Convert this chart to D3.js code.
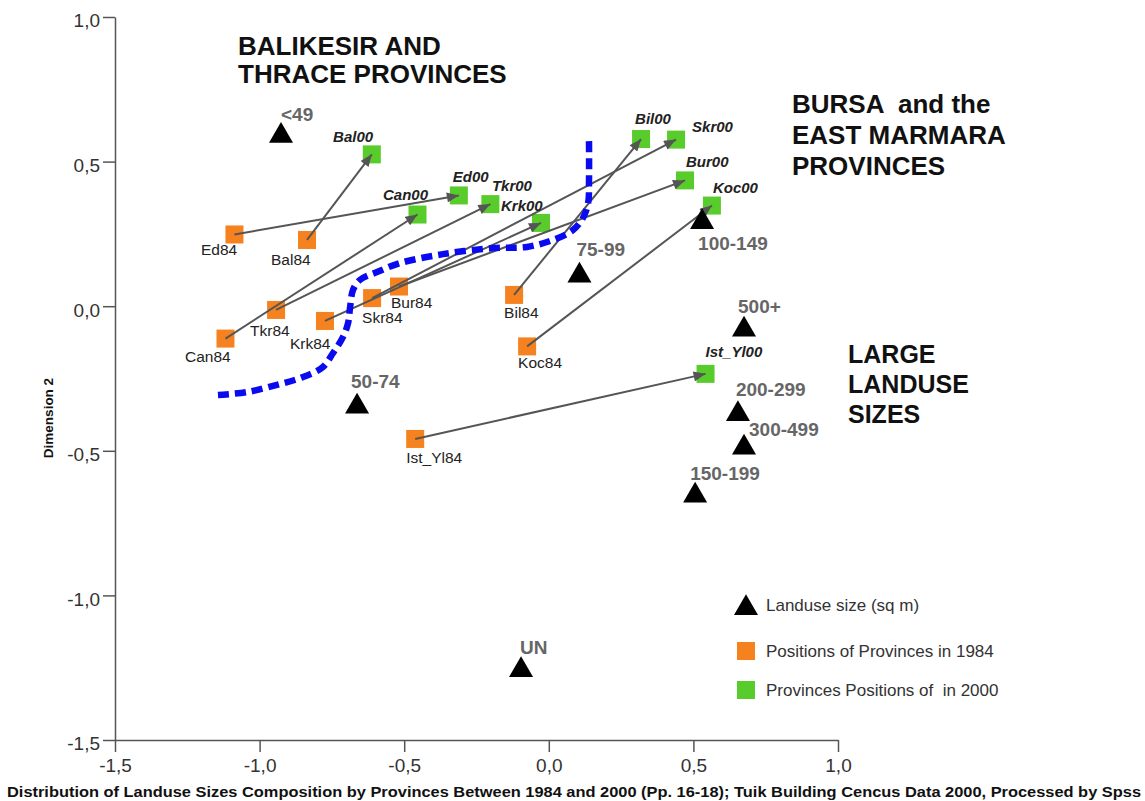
<!DOCTYPE html>
<html>
<head>
<meta charset="utf-8">
<script src="https://cdn.jsdelivr.net/npm/d3@7"></script>
<style>
    body { margin: 0; background: #ffffff; }
    text { font-family: "Liberation Sans", Arial, sans-serif; }
</style>
</head>
<body>
<div id="canvas"></div>
<script>
"use strict";

/* Data (Dimension 1 vs Dimension 2) */

// Landuse size categories (sq m) - black triangles
let landuseNames = ["<49", "50-74", "75-99", "100-149", "150-199", "200-299", "300-499", "500+", "UN"];
let landuseX = [-0.926, -0.663, 0.106, 0.530, 0.506, 0.654, 0.675, 0.675, -0.096];
let landuseY = [0.589, -0.347, 0.106, 0.291, -0.655, -0.373, -0.489, -0.081, -1.258];

// Provinces, positions in 1984 (orange) and 2000 (green)
let provinceCodes = ["Ed", "Bal", "Can", "Tkr", "Krk", "Skr", "Bur", "Bil", "Koc", "Ist_Yl"];
let x1984 = [-1.087, -0.836, -1.118, -0.943, -0.774, -0.611, -0.518, -0.120, -0.075, -0.462];
let y1984 = [0.248, 0.229, -0.112, -0.013, -0.051, 0.028, 0.068, 0.039, -0.139, -0.459];
let x2000 = [-0.311, -0.612, -0.454, -0.202, -0.027, 0.440, 0.471, 0.319, 0.564, 0.542];
let y2000 = [0.383, 0.525, 0.317, 0.353, 0.288, 0.576, 0.435, 0.578, 0.348, -0.234];

// Hand drawn boundary (blue dashed line)
let boundaryX = [-1.144, -1.044, -0.940, -0.850, -0.781, -0.746, -0.712, -0.694, -0.687, -0.677, -0.653,
                 -0.594, -0.515, -0.366, -0.193, -0.076, 0.014, 0.083, 0.118, 0.136, 0.139, 0.139];
let boundaryY = [-0.307, -0.297, -0.272, -0.245, -0.210, -0.162, -0.107, -0.058, -0.003, 0.056, 0.091,
                 0.118, 0.149, 0.180, 0.201, 0.205, 0.229, 0.263, 0.305, 0.357, 0.436, 0.574];

let tickValues = [-1.5, -1.0, -0.5, 0.0, 0.5, 1.0];

let regionTitles = [
    ["BALIKESIR AND", "THRACE PROVINCES"],
    ["BURSA  and the", "EAST MARMARA", "PROVINCES"],
    ["LARGE", "LANDUSE", "SIZES"]
];

let legendLabels = ["Landuse size (sq m)", "Positions of Provinces in 1984", "Provinces Positions of  in 2000"];

let captionText = "Distribution of Landuse Sizes Composition by Provinces Between 1984 and 2000 (Pp. 16-18); Tuik Building Cencus Data 2000, Processed by Spss";

/* Layout */
let svgWidth = 1145;
let svgHeight = 801;

// label offsets (dx, dy) from the marker centre, in pixels
let labelOffsets = {
    "<49": [0, -15], "50-74": [-6, -18.5], "75-99": [-3, -19.5], "100-149": [-4, 28],
    "150-199": [-5, -15.5], "200-299": [-2, -18], "300-499": [5, -11.5], "500+": [-6, -16.5], "UN": [-1, -16],
    "Ed84": [-33.5, 20.5], "Bal84": [-36, 25], "Can84": [-40.5, 23.5], "Tkr84": [-26, 26], "Krk84": [-35, 28],
    "Skr84": [-10, 25], "Bur84": [-8, 21.5], "Bil84": [-10, 23], "Koc84": [-9, 21.5], "Ist_Yl84": [-9, 24],
    "Bal00": [-38.7, -12.5], "Can00": [-34.5, -14.5], "Ed00": [-6, -13.5], "Tkr00": [1.5, -13], "Krk00": [-40, -12],
    "Bil00": [-6, -15], "Skr00": [16, -7.5], "Bur00": [1, -13.5], "Koc00": [1, -12.5], "Ist_Yl00": [0, -17]
};

let orange = "#f6821f";
let green = "#58cc2b";
let squareSize = 18;

let svg;
let xScale = d3.scaleLinear().domain([-1.5, 1.0]).range([115, 838]);
let yScale = d3.scaleLinear().domain([-1.5, 1.0]).range([740, 17]);

// comma decimals and a plain hyphen for negatives
let fmt = d3.formatLocale({ decimal: ",", thousands: ".", grouping: [3], currency: ["", ""], minus: "-" }).format(".1f");

(function() {
    svg = d3.select("#canvas")
        .append("svg")
        .attr("width", svgWidth)
        .attr("height", svgHeight);

    svg.append("rect")
        .attr("width", svgWidth)
        .attr("height", svgHeight)
        .attr("fill", "white");

    drawAxes();
    drawProvinces();
    drawBoundary();
    drawLanduse();
    drawTitles();
    drawLegend();
})();

function drawAxes() {
    let xAxis = svg.append("g")
        .attr("transform", "translate(0," + yScale(-1.5) + ")")
        .call(d3.axisBottom(xScale).tickValues(tickValues).tickFormat(fmt)
            .tickSizeInner(12).tickSizeOuter(0).tickPadding(7));

    let yAxis = svg.append("g")
        .attr("transform", "translate(" + xScale(-1.5) + ",0)")
        .call(d3.axisLeft(yScale).tickValues(tickValues).tickFormat(fmt)
            .tickSizeInner(12).tickSizeOuter(0).tickPadding(3));

    [xAxis, yAxis].forEach(function(g) {
        g.select(".domain").attr("stroke", "#555").attr("stroke-width", 1.5);
        g.selectAll(".tick line").attr("stroke", "#555").attr("stroke-width", 1.5);
        g.selectAll(".tick text")
            .attr("fill", "#333")
            .style("font-size", "19px")
            .style("font-family", "'Liberation Sans', Arial, sans-serif");
    });
    yAxis.selectAll(".tick text").attr("dy", "0.52em");

    // y axis title
    svg.append("text")
        .attr("transform", "translate(53,418) rotate(-90)")
        .attr("text-anchor", "middle")
        .attr("font-weight", "bold")
        .style("font-size", "13.5px")
        .attr("fill", "#111")
        .text("Dimension 2");

    // caption below the chart
    svg.append("text")
        .attr("x", 7)
        .attr("y", 797)
        .attr("font-weight", "bold")
        .attr("textLength", 1134)
        .attr("lengthAdjust", "spacingAndGlyphs")
        .style("font-size", "15px")
        .style("font-family", "'Liberation Sans Narrow', 'Liberation Sans', Arial, sans-serif")
        .attr("fill", "#111")
        .text(captionText);
}

function drawProvinces() {
    let half = squareSize / 2;

    // orange squares for 1984
    svg.selectAll("rect.p84")
        .data(provinceCodes)
        .join("rect")
        .classed("p84", true)
        .attr("x", function(d, i) { return xScale(x1984[i]) - half; })
        .attr("y", function(d, i) { return yScale(y1984[i]) - half; })
        .attr("width", squareSize)
        .attr("height", squareSize)
        .attr("fill", orange);

    // green squares for 2000
    svg.selectAll("rect.p00")
        .data(provinceCodes)
        .join("rect")
        .classed("p00", true)
        .attr("x", function(d, i) { return xScale(x2000[i]) - half; })
        .attr("y", function(d, i) { return yScale(y2000[i]) - half; })
        .attr("width", squareSize)
        .attr("height", squareSize)
        .attr("fill", green);

    // arrow heads
    svg.append("defs")
        .append("marker")
        .attr("id", "arrow")
        .attr("viewBox", "0 0 12 10")
        .attr("refX", 12)
        .attr("refY", 5)
        .attr("markerWidth", 13)
        .attr("markerHeight", 10)
        .attr("markerUnits", "userSpaceOnUse")
        .attr("orient", "auto")
        .append("path")
        .attr("d", "M0,0L12,5L0,10Z")
        .attr("fill", "#555");

    // movement 1984 -> 2000
    svg.selectAll("line.move")
        .data(provinceCodes)
        .join("line")
        .classed("move", true)
        .attr("x1", function(d, i) { return xScale(x1984[i]); })
        .attr("y1", function(d, i) { return yScale(y1984[i]); })
        .attr("x2", function(d, i) { return xScale(x2000[i]); })
        .attr("y2", function(d, i) { return yScale(y2000[i]); })
        .attr("stroke", "#555")
        .attr("stroke-width", 2)
        .attr("marker-end", "url(#arrow)");

    // labels
    svg.selectAll("text.l84")
        .data(provinceCodes)
        .join("text")
        .classed("l84", true)
        .attr("x", function(d, i) { return xScale(x1984[i]) + labelOffsets[d + "84"][0]; })
        .attr("y", function(d, i) { return yScale(y1984[i]) + labelOffsets[d + "84"][1]; })
        .attr("fill", "#222")
        .style("font-size", "15.5px")
        .text(function(d) { return d + "84"; });

    svg.selectAll("text.l00")
        .data(provinceCodes)
        .join("text")
        .classed("l00", true)
        .attr("x", function(d, i) { return xScale(x2000[i]) + labelOffsets[d + "00"][0]; })
        .attr("y", function(d, i) { return yScale(y2000[i]) + labelOffsets[d + "00"][1]; })
        .attr("fill", "#222")
        .attr("font-weight", "bold")
        .attr("font-style", "italic")
        .style("font-size", "15px")
        .text(function(d) { return d + "00"; });
}

function drawBoundary() {
    let line = d3.line()
        .x(function(d, i) { return xScale(boundaryX[i]); })
        .y(function(d, i) { return yScale(boundaryY[i]); })
        .curve(d3.curveCatmullRom);

    svg.append("path")
        .attr("d", line(boundaryX))
        .attr("fill", "none")
        .attr("stroke", "#0a0af0")
        .attr("stroke-width", 6.5)
        .attr("stroke-dasharray", "11,6");
}

function drawLanduse() {
    let tri = d3.symbol().type(d3.symbolTriangle).size(250);

    svg.selectAll("path.landuse")
        .data(landuseNames)
        .join("path")
        .classed("landuse", true)
        .attr("d", tri)
        .attr("transform", function(d, i) {
            return "translate(" + xScale(landuseX[i]) + "," + yScale(landuseY[i]) + ")";
        })
        .attr("fill", "black");

    svg.selectAll("text.landuse")
        .data(landuseNames)
        .join("text")
        .classed("landuse", true)
        .attr("x", function(d, i) { return xScale(landuseX[i]) + labelOffsets[d][0]; })
        .attr("y", function(d, i) { return yScale(landuseY[i]) + labelOffsets[d][1]; })
        .attr("fill", "#666")
        .attr("font-weight", "bold")
        .style("font-size", "19px")
        .text(function(d) { return d; });
}

function drawTitles() {
    let anchors = [[238, 55, 28, 26], [792, 113, 31, 26], [848, 363, 30, 25]];

    for (let i = 0; i < regionTitles.length; i++) {
        let a = anchors[i];
        for (let j = 0; j < regionTitles[i].length; j++) {
            svg.append("text")
                .attr("x", a[0])
                .attr("y", a[1] + j * a[2])
                .attr("font-weight", "bold")
                .attr("fill", "#111")
                .style("font-size", a[3] + "px")
                .style("white-space", "pre")
                .text(regionTitles[i][j]);
        }
    }
}

function drawLegend() {
    let legendX = 746;
    let rowY = [608, 651, 690];

    svg.append("path")
        .attr("d", d3.symbol().type(d3.symbolTriangle).size(250))
        .attr("transform", "translate(" + legendX + "," + rowY[0] + ")")
        .attr("fill", "black");

    svg.append("rect")
        .attr("x", legendX - squareSize / 2)
        .attr("y", rowY[1] - squareSize / 2)
        .attr("width", squareSize)
        .attr("height", squareSize)
        .attr("fill", orange);

    svg.append("rect")
        .attr("x", legendX - squareSize / 2)
        .attr("y", rowY[2] - squareSize / 2)
        .attr("width", squareSize)
        .attr("height", squareSize)
        .attr("fill", green);

    for (let i = 0; i < legendLabels.length; i++) {
        svg.append("text")
            .attr("x", legendX + 20)
            .attr("y", rowY[i] + (i === 0 ? 3 : 6))
            .attr("fill", "#333")
            .style("font-size", "17px")
            .style("white-space", "pre")
            .text(legendLabels[i]);
    }
}
</script>
</body>
</html>
